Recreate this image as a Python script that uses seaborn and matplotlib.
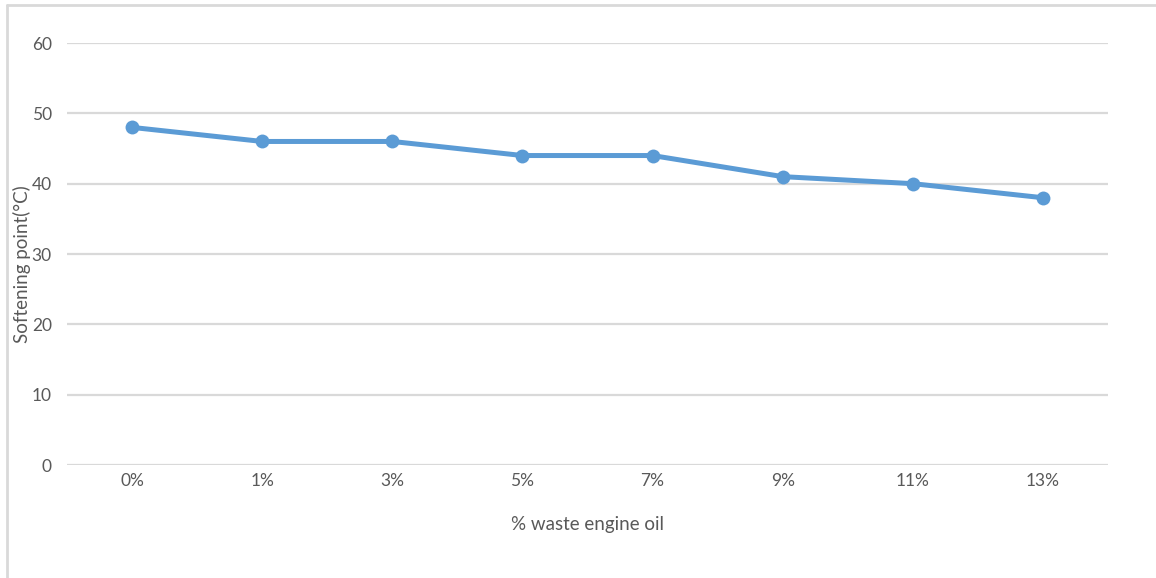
import matplotlib
matplotlib.use("Agg")
import matplotlib.pyplot as plt
from matplotlib.lines import Line2D
import seaborn as sns
import pandas as pd

categories = ["0%", "1%", "3%", "5%", "7%", "9%", "11%", "13%"]
softening_point = [48, 46, 46, 44, 44, 41, 40, 38]
y_ticks = [0, 10, 20, 30, 40, 50, 60]

sns.set_style("white")
plt.rcParams["font.family"] = ["Lato", "DejaVu Sans"]

text_color = "#595959"
grid_color = "#D9D9D9"
line_color = "#5B9BD5"

fig = plt.figure(figsize=(11.56, 5.78), dpi=100)
ax = fig.add_axes([0.058, 0.1955, 0.9005, 0.7301])

df = pd.DataFrame({"oil": categories, "sp": softening_point})
sns.lineplot(data=df, x="oil", y="sp", sort=False, ax=ax, color=line_color,
             linewidth=3.6, marker="o", markersize=10, markeredgewidth=0, zorder=3)

ax.set_xlim(-0.5, len(categories) - 0.5)
ax.set_ylim(0, 60)
ax.set_yticks(y_ticks)
ax.set_xticks(range(len(categories)))
ax.set_xticklabels(categories)

for y in y_ticks:
    ax.axhline(y, color=grid_color, linewidth=1.6, zorder=1)

for s in ax.spines.values():
    s.set_visible(False)
ax.tick_params(axis="both", length=0, labelsize=12.5, colors=text_color)
ax.tick_params(axis="y", pad=11)
ax.tick_params(axis="x", pad=6)

ax.set_xlabel("% waste engine oil", fontsize=13.5, color=text_color)
ax.xaxis.set_label_coords(0.5, -0.122)
ax.set_ylabel("Softening point(°C)", fontsize=13.5, color=text_color)
ax.yaxis.set_label_coords(-0.035, 0.475)

# chart frame (top and left edges)
fig.add_artist(Line2D([7 / 1156, 7 / 1156], [0, 1 - 5 / 578], transform=fig.transFigure,
                      color=grid_color, linewidth=2))
fig.add_artist(Line2D([7 / 1156, 1], [1 - 5 / 578, 1 - 5 / 578], transform=fig.transFigure,
                      color=grid_color, linewidth=2))

fig.savefig("out.png", dpi=100, facecolor="white")
